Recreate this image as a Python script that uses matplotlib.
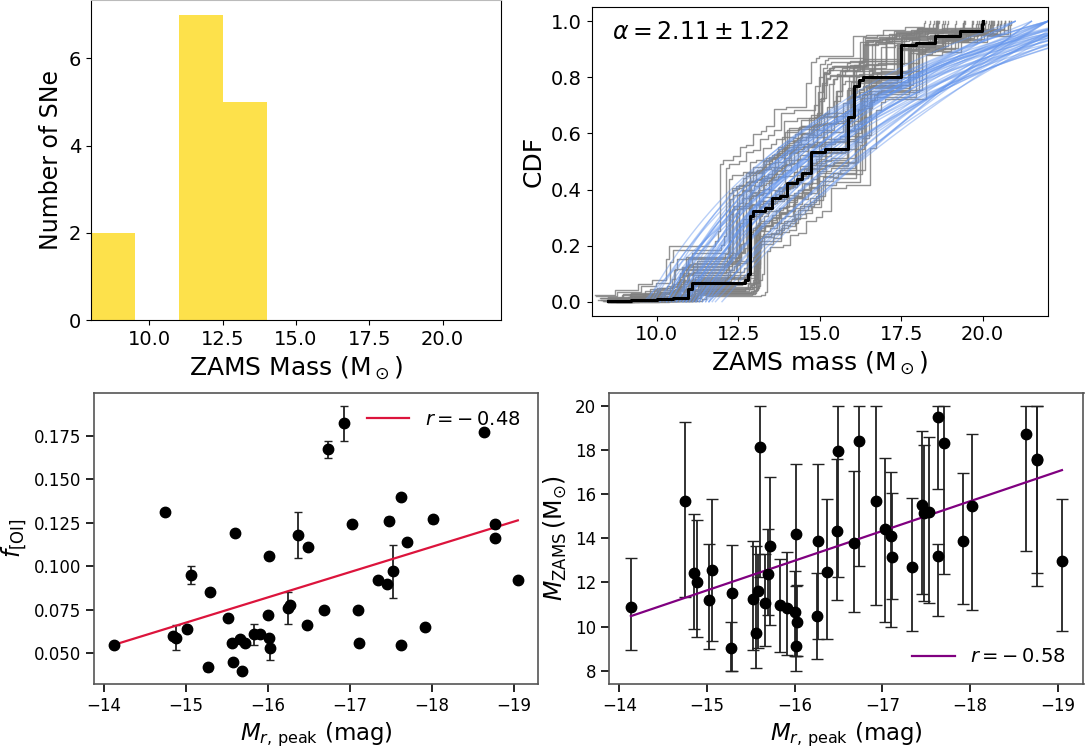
import numpy as np
import matplotlib
matplotlib.use("Agg")
import matplotlib.pyplot as plt
from matplotlib.ticker import MultipleLocator, FormatStrFormatter

# ---------------------------------------------------------------------------
# top left: histogram of ZAMS masses
hist_edges = [8.0, 9.5, 11.0, 12.5, 14.0]
hist_counts = [2, 0, 7, 5]

# top right: observed CDF (black staircase)
cdf_mass = [8.49, 9.2, 10.0, 10.5, 10.97, 11.07, 12.70, 12.80, 12.86, 12.96, 13.32, 13.55,
            13.78, 14.00, 14.29, 14.47, 14.73, 15.16, 15.87, 16.05, 16.21, 16.32, 17.50,
            17.97, 18.54, 19.30, 19.97, 20.0]
cdf_val = [0.002, 0.005, 0.010, 0.014, 0.044, 0.068, 0.079, 0.100, 0.307, 0.322, 0.334, 0.370,
           0.378, 0.423, 0.438, 0.459, 0.535, 0.545, 0.660, 0.769, 0.790, 0.800, 0.915,
           0.922, 0.948, 0.964, 0.990, 1.0]

# resampled staircases (grey): level exponent, mass shift, mass stretch
grey_gamma = [0.60, 0.75, 0.90, 1.10, 1.30, 0.70, 0.85, 1.00, 1.20, 1.45, 0.65, 0.80,
              0.95, 1.15, 1.35, 0.72, 0.88, 1.05, 1.25, 0.78, 0.92, 1.08, 0.68, 1.18,
              0.83, 1.40, 0.98, 0.74, 1.12, 0.87, 0.63, 0.93, 1.22, 0.77, 1.03, 0.69,
              1.28, 0.81, 0.97, 1.16]
grey_shift = [-0.40, 0.00, 0.00, 0.20, 0.00, -0.20, 0.00, 0.35, 0.00, 0.30, 0.00, -0.30,
              0.00, 0.00, 0.25, 0.00, 0.10, -0.10, 0.00, 0.00, 0.30, 0.00, -0.25, 0.00,
              0.15, 0.00, -0.15, 0.00, 0.40, 0.00, -0.35, 0.05, 0.00, 0.20, -0.05, 0.00,
              0.10, -0.20, 0.00, 0.25]
grey_scale = [0.88, 0.95, 1.04, 1.00, 1.06, 0.90, 0.86, 1.02, 1.00, 1.05, 1.00, 0.92,
              0.87, 1.04, 1.00, 1.06, 0.90, 1.00, 1.07, 0.88, 1.00, 0.93, 1.03, 1.00,
              0.96, 1.05, 0.89, 1.01, 0.94, 1.07, 0.91, 0.98, 1.03, 0.86, 1.00, 0.95,
              1.02, 0.97, 0.90, 1.00]

# fitted power laws (blue): slope, lower and upper mass
pl_alpha = [2.1, 1.5, 2.8, 0.9, 3.3, 2.4, 1.2, 1.8, 2.6, 3.0, 0.7, 2.0, 1.7, 2.3, 3.6,
            1.1, 2.5, 1.9, 2.9, 1.4, 2.2, 0.8, 3.1, 1.6, 2.7, 2.0, 1.3, 2.4, 3.4, 1.0,
            1.8, 2.6, 2.2, 1.5, 2.9, 0.9, 2.1, 1.7, 2.5, 3.2, 1.9, 2.3, 1.4, 2.8, 2.0,
            1.6, 2.4, 1.2]
pl_mlo = [10.6, 11.2, 10.6, 11.6, 11.0, 10.4, 11.4, 10.8, 10.9, 11.2, 11.8, 10.9, 11.0,
          10.5, 11.5, 11.5, 10.3, 11.1, 10.8, 11.3, 10.7, 12.0, 11.3, 11.2, 10.4, 10.6,
          11.7, 10.2, 11.6, 11.9, 10.9, 10.3, 10.8, 11.4, 10.1, 11.6, 9.8, 10.0, 9.7,
          10.9, 10.1, 9.9, 10.7, 10.3, 11.3, 10.5, 11.1, 9.6]
pl_mhi = [24, 23, 22, 22, 25, 23, 23, 21, 24, 24, 21.5, 23, 22, 25, 24, 22, 21, 24, 23,
          22, 24, 21.5, 22, 23, 25, 21.5, 22, 23, 24, 21.8, 22, 23, 25, 21, 24, 22.5,
          23, 22, 24, 23, 25, 22, 23, 26, 21, 24, 22, 23]
alpha_text = r"$\alpha = 2.11 \pm 1.22$"

# bottom: peak magnitude, [OI] fraction and ZAMS mass per SN
mag = [-14.13, -14.75, -14.85, -14.88, -15.02, -15.06, -15.27, -15.29, -15.52, -15.56,
       -15.58, -15.60, -15.66, -15.69, -15.72, -15.83, -15.91, -16.00, -16.01, -16.02,
       -16.03, -16.25, -16.27, -16.37, -16.48, -16.49, -16.68, -16.73, -16.93, -17.03,
       -17.10, -17.11, -17.34, -17.45, -17.48, -17.53, -17.63, -17.63, -17.70, -17.92,
       -18.02, -18.64, -18.77, -18.77, -19.05]
f_oi = [0.055, 0.131, 0.060, 0.059, 0.064, 0.095, 0.042, 0.085, 0.070, 0.056,
        0.045, 0.119, 0.058, 0.040, 0.056, 0.061, 0.061, 0.072, 0.059, 0.106,
        0.053, 0.076, 0.078, 0.118, 0.066, 0.111, 0.075, 0.167, 0.182, 0.124,
        0.075, 0.056, 0.092, 0.090, 0.126, 0.097, 0.140, 0.055, 0.114, 0.065,
        0.127, 0.177, 0.124, 0.116, 0.092]
f_oi_err = [0.0, 0.0, 0.0, 0.007, 0.0, 0.005, 0.002, 0.0, 0.0, 0.0,
            0.0, 0.0, 0.0, 0.0, 0.0, 0.006, 0.0, 0.0, 0.0, 0.0,
            0.0066, 0.009, 0.0, 0.013, 0.0, 0.0, 0.0, 0.005, 0.010, 0.0,
            0.0, 0.0, 0.0, 0.0, 0.002, 0.015, 0.0, 0.0, 0.0, 0.0,
            0.002, 0.0, 0.002, 0.0, 0.0]
m_zams = [10.89, 15.70, 12.45, 12.04, 11.21, 12.55, 9.02, 11.51, 11.23, 9.72,
          11.60, 18.13, 11.06, 12.37, 13.65, 10.98, 10.86, 10.65, 9.13, 14.18,
          10.23, 10.50, 13.88, 12.49, 14.33, 17.96, 13.77, 18.43, 15.70, 14.41,
          14.11, 13.16, 12.72, 15.49, 15.13, 15.18, 19.50, 13.20, 18.34, 13.88,
          15.48, 18.73, 17.54, 17.60, 12.96]
m_zams_lo = [8.92, 11.35, 9.87, 9.51, 8.99, 9.34, 8.00, 8.00, 8.92, 8.12,
             9.02, 12.24, 9.10, 10.53, 10.08, 8.83, 8.72, 8.69, 8.00, 8.65,
             8.65, 8.53, 9.43, 9.43, 11.21, 12.27, 10.67, 12.75, 11.00, 10.19,
             10.00, 11.24, 9.82, 11.48, 11.18, 11.09, 16.25, 10.47, 12.39, 11.03,
             10.77, 13.43, 11.86, 12.42, 9.82]
m_zams_hi = [13.09, 19.28, 15.12, 14.81, 13.76, 15.79, 10.20, 13.68, 13.86, 13.65,
             13.28, 20.0, 13.28, 14.44, 16.79, 13.05, 13.37, 12.52, 11.86, 17.39,
             11.89, 12.42, 17.38, 15.79, 17.59, 20.0, 17.06, 20.0, 20.0, 17.65,
             17.01, 16.05, 15.84, 18.88, 18.22, 18.60, 20.0, 13.76, 20.0, 16.97,
             18.73, 20.0, 20.0, 20.0, 15.79]

# linear fits (slope, intercept) and correlation coefficients
fit_f_oi = [-0.0145, -0.1499]
fit_m_zams = [-1.345, -8.53]
r_f_oi = "0.48"
r_m_zams = "0.58"

# ---------------------------------------------------------------------------
W, H = 1086, 747
fig = plt.figure(figsize=(W / 100, H / 100), dpi=100)


def px_axes(x0, x1, y0, y1):
    # pixel box (top-left origin) -> figure axes
    return fig.add_axes([x0 / W, 1 - y1 / H, (x1 - x0) / W, (y1 - y0) / H])


ax_hist = px_axes(90.7, 501.3, -0.5, 320.0)
ax_cdf = px_axes(591.7, 1047.7, 7.3, 315.7)
ax_f = px_axes(94.3, 538.0, 392.7, 684.0)
ax_m = px_axes(609.3, 1083.5, 392.7, 684.0)

# --- histogram
ax_hist.bar(hist_edges[:-1], hist_counts, width=np.diff(hist_edges), align="edge",
            color="#fde14b", edgecolor="none")
ax_hist.set_xlim(8, 22)
ax_hist.set_ylim(0, 7.35)
ax_hist.xaxis.set_major_locator(MultipleLocator(2.5))
ax_hist.yaxis.set_major_locator(MultipleLocator(2))
ax_hist.xaxis.set_major_formatter(FormatStrFormatter("%.1f"))
ax_hist.set_xlabel(r"ZAMS Mass (M$_\odot$)", fontsize=18)
ax_hist.set_ylabel("Number of SNe", fontsize=17)
ax_hist.tick_params(labelsize=14)
ax_hist.spines["top"].set_color("#bbbbbb")

# --- CDF
cm = np.array(cdf_mass)
cv = np.array(cdf_val)
for g, s, k in zip(grey_gamma, grey_shift, grey_scale):
    ax_cdf.step(8.5 + (cm - 8.5) * k + s, cv ** g, where="post", color="grey",
                lw=1, alpha=0.85, zorder=1)
for a, lo, hi in zip(pl_alpha, pl_mlo, pl_mhi):
    m = np.linspace(lo, min(hi, 22.5), 200)
    e = 1 - a
    cdf = (lo ** e - m ** e) / (lo ** e - hi ** e)
    ax_cdf.plot(m, cdf, color="cornflowerblue", lw=1, alpha=0.45, zorder=2)
ax_cdf.step(cm, cv, where="post", color="black", lw=2.2, zorder=3)
ax_cdf.set_xlim(8, 22)
ax_cdf.set_ylim(-0.05, 1.05)
ax_cdf.xaxis.set_major_locator(MultipleLocator(2.5))
ax_cdf.yaxis.set_major_locator(MultipleLocator(0.2))
ax_cdf.xaxis.set_major_formatter(FormatStrFormatter("%.1f"))
ax_cdf.set_xlabel(r"ZAMS mass (M$_\odot$)", fontsize=18)
ax_cdf.set_ylabel("CDF", fontsize=18)
ax_cdf.tick_params(labelsize=14)
ax_cdf.text(0.045, 0.96, alpha_text, transform=ax_cdf.transAxes, fontsize=17, va="top")

# --- bottom panels
mg = np.array(mag)
line_x = np.array([mg.max(), mg.min()])

ax_f.errorbar(mag, f_oi, yerr=f_oi_err, fmt="o", color="black", ms=7.5,
              ecolor="#222222", elinewidth=1.3, capsize=3)
ax_f.plot(line_x, np.polyval(fit_f_oi, line_x), color="crimson", lw=1.6,
          label=r"$r = -\,%s$" % r_f_oi)
ax_f.invert_xaxis()
ax_f.yaxis.set_major_locator(MultipleLocator(0.025))
ax_f.yaxis.set_major_formatter(FormatStrFormatter("%.3f"))
ax_f.set_xlabel(r"$M_{r,\,\rm peak}$ (mag)", fontsize=16.5)
ax_f.set_ylabel(r"$f_{\rm [OI]}$", fontsize=17)
ax_f.legend(loc="upper right", frameon=False, fontsize=14, handlelength=2.2)

mz = np.array(m_zams)
yerr_m = [mz - np.array(m_zams_lo), np.array(m_zams_hi) - mz]
ax_m.errorbar(mag, m_zams, yerr=yerr_m, fmt="o", color="black", ms=7.5,
              ecolor="#222222", elinewidth=1.3, capsize=4)
ax_m.plot(line_x, np.polyval(fit_m_zams, line_x), color="purple", lw=1.6,
          label=r"$r = -\,%s$" % r_m_zams)
ax_m.invert_xaxis()
ax_m.yaxis.set_major_locator(MultipleLocator(2))
ax_m.set_xlabel(r"$M_{r,\,\rm peak}$ (mag)", fontsize=16.5)
ax_m.set_ylabel(r"$M_{\rm ZAMS}\,(\rm M_{\odot})$", fontsize=17)
ax_m.legend(loc="lower right", frameon=False, fontsize=14, handlelength=2.2)

for ax in (ax_f, ax_m):
    ax.tick_params(labelsize=12, length=6, width=1.2)
    for sp in ax.spines.values():
        sp.set_color("#555555")
        sp.set_linewidth(1.2)

fig.savefig("out.png", dpi=100)
